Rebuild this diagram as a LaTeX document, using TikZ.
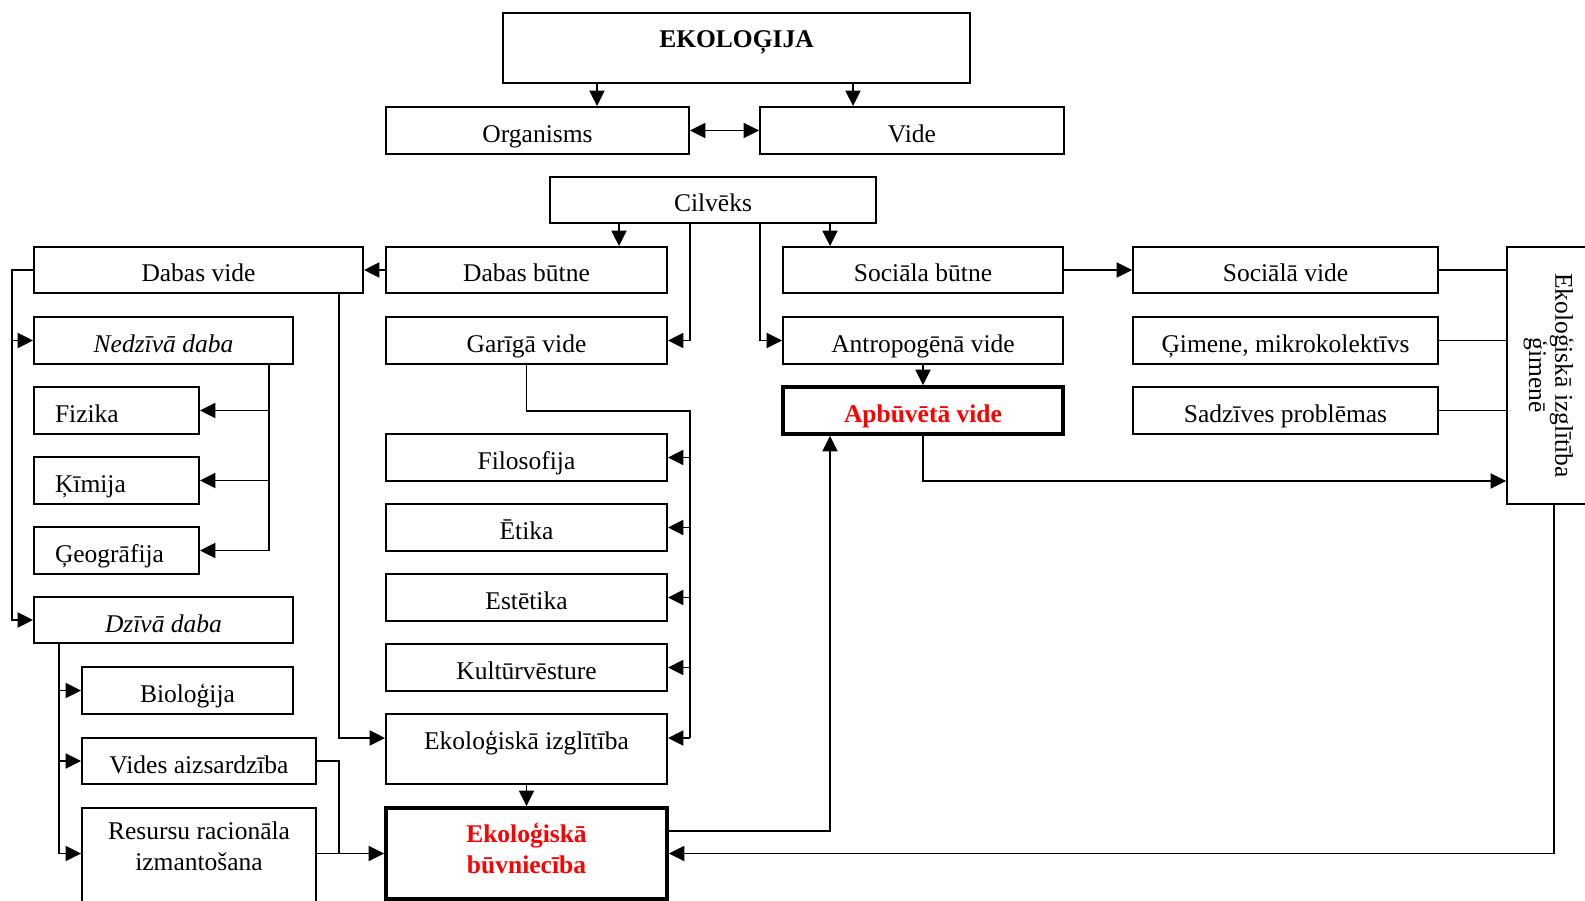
\documentclass[tikz,border=0pt]{standalone}
\usepackage{fontspec}
\setmainfont{Liberation Serif}
\usepackage{graphicx}
\usetikzlibrary{arrows.meta}
\definecolor{keyred}{RGB}{255,0,0}

\begin{document}
\begin{tikzpicture}[x=1pt,y=-1pt,
  base/.style={draw, line width=1.9pt, inner sep=0pt, align=center,
    font=\fontsize{25.5pt}{30pt}\selectfont},
  box/.style={base, minimum height=47pt, text height=26pt, text depth=2pt},
  lbox/.style={box, text width=123pt, inner xsep=21pt, align=left},
  colA/.style={minimum width=259pt},
  colB/.style={minimum width=281pt},
  colC/.style={minimum width=280pt},
  colD/.style={minimum width=305pt},
  italic/.style={font=\fontsize{25.5pt}{30pt}\selectfont\itshape},
  heavy/.style={line width=3.8pt},
  keytext/.style={text=keyred, font=\fontsize{25.5pt}{30.6pt}\selectfont\bfseries},
  link/.style={line width=1.9pt},
  arr/.style={line width=1.9pt, -{Triangle[length=15.5pt,width=15pt]}},
  arrboth/.style={line width=1.9pt, {Triangle[length=15.5pt,width=15pt]}-{Triangle[length=15.5pt,width=15pt]}},
]
\useasboundingbox (0,0) rectangle (1585,901);
\fill[white] (0,0) rectangle (1585,901);
\clip (0,0) rectangle (1585,901);

% top of the hierarchy
\node[box, minimum width=467pt, minimum height=70pt, text height=20pt, text depth=20pt,
      font=\fontsize{25.5pt}{30pt}\selectfont\bfseries] (ekol) at (736.5,48) {EKOLOĢIJA};
\node[box, minimum width=303pt] (org) at (537.5,130.5) {Organisms};
\node[box, minimum width=304pt] (vide) at (912,130.5) {Vide};
\node[box, minimum width=326pt, minimum height=46pt] (cilv) at (713,200) {Cilvēks};

% first row
\node[box, minimum width=329pt, minimum height=46pt] (dabv) at (198.5,270) {Dabas vide};
\node[box, colB, minimum height=46pt] (dabb) at (526.5,270) {Dabas būtne};
\node[box, colC, minimum height=46pt] (socb) at (923,270) {Sociāla būtne};
\node[box, colD, minimum height=46pt] (socv) at (1285.5,270) {Sociālā vide};

% second row
\node[box, colA, italic] (nedz) at (163.5,340.5) {Nedzīvā daba};
\node[box, colB] (gar) at (526.5,340.5) {Garīgā vide};
\node[box, colC] (antr) at (923,340.5) {Antropogēnā vide};
\node[box, colD] (gim) at (1285.5,340.5) {Ģimene, mikrokolektīvs};

% sciences of inanimate nature
\node[lbox] (fiz) at (116.5,410.5) {Fizika};
\node[lbox] (kim) at (116.5,480.5) {Ķīmija};
\node[lbox] (geo) at (116.5,550.5) {Ģeogrāfija};

% built environment and society
\node[box, colC, heavy, keytext] (apb) at (923,410.5) {Apbūvētā vide};
\node[box, colD] (sadz) at (1285.5,410.5) {Sadzīves problēmas};

% spiritual environment
\node[box, colB] (filo) at (526.5,457.5) {Filosofija};
\node[box, colB] (etika) at (526.5,527.5) {Ētika};
\node[box, colB] (este) at (526.5,597.5) {Estētika};
\node[box, colB] (kult) at (526.5,667.5) {Kultūrvēsture};
\node[box, colB, minimum height=70pt, text height=20pt, text depth=20pt] (ekizgl) at (526.5,749) {Ekoloģiskā izglītība};

% living nature
\node[box, colA, minimum height=46pt, italic] (dziv) at (163.5,620) {Dzīvā daba};
\node[box, minimum width=211pt] (bio) at (187.5,690.5) {Bioloģija};
\node[box, minimum width=234pt, minimum height=46pt] (vaizs) at (199,761) {Vides aizsardzība};
\node[base, minimum width=234pt, minimum height=102pt,
      font=\fontsize{25.5pt}{31pt}\selectfont] (resu) at (199,859)
      {Resursu racionāla\\izmantošana\rule[-25pt]{0pt}{25pt}};

% ecological building
\node[base, colB, minimum height=91pt, heavy, keytext] (ekbuv) at (526.5,853.5)
      {Ekoloģiskā\\būvniecība\rule[-10pt]{0pt}{10pt}};

% family education, set vertically
\node[base, minimum width=81pt, minimum height=257pt,
      font=\fontsize{25.5pt}{26pt}\selectfont] (ekgim) at (1547.5,375.5)
      {\rotatebox{-90}{\begin{tabular}{@{}c@{}}Ekoloģiskā izglītība\\ģimenē\end{tabular}}};

% connectors from the top
\draw[arr] (597,0 |- ekol.south) -- (597,0 |- org.north);
\draw[arr] (853,0 |- ekol.south) -- (853,0 |- vide.north);
\draw[arrboth] (org.east) -- (vide.west);
\draw[arr] (619,0 |- cilv.south) -- (619,0 |- dabb.north);
\draw[arr] (690,0 |- cilv.south) |- (gar.east);
\draw[arr] (760,0 |- cilv.south) |- (antr.west);
\draw[arr] (830,0 |- cilv.south) -- (830,0 |- socb.north);

% nature branch
\draw[arr] (dabb.west) -- (dabv.east);
\draw[arr] (dabv.west) -| (12,0 |- nedz.west) -- (nedz.west);
\draw[arr] (12,0 |- nedz.west) |- (dziv.west);
\draw[link] (269,0 |- nedz.south) -- (269,0 |- geo.east);
\foreach \n in {fiz,kim,geo} \draw[arr] (269,0 |- \n.east) -- (\n.east);
\draw[arr] (339,0 |- dabv.south) |- ([yshift=11pt]ekizgl.west);
\draw[link] (59,0 |- dziv.south) -- (59,0 |- ekbuv.west);
\foreach \n in {bio,vaizs} \draw[arr] (59,0 |- \n.west) -- (\n.west);
\draw[arr] (59,0 |- ekbuv.west) -- (resu.west |- ekbuv.west);
\draw[link] (vaizs.east) -| (339,0 |- ekbuv.west);
\draw[arr] (resu.east |- ekbuv.west) -- (ekbuv.west);

% spiritual branch
\coordinate (gbus) at (690,738);
\draw[link] (gar.south) |- (690,411) -- (gbus);
\foreach \n in {filo,etika,este,kult} \draw[arr] (gbus |- \n.east) -- (\n.east);
\draw[arr] (gbus) -- (gbus -| ekizgl.east);
\draw[arr] (ekizgl.south) -- (ekbuv.north);

% social branch
\draw[arr] (socb.east) -- (socv.west);
\draw[arr] (antr.south) -- (apb.north);
\draw[arr] ([yshift=22.5pt]ekbuv.east) -| (830,0 |- apb.south);
\draw[arr] (apb.south) |- ([yshift=-105.5pt]ekgim.west);
\foreach \n in {socv,gim,sadz} \draw[link] (\n.east) -- (\n.east -| ekgim.west);
\draw[arr] (1554,0 |- ekgim.south) |- (ekbuv.east);
\end{tikzpicture}
\end{document}
